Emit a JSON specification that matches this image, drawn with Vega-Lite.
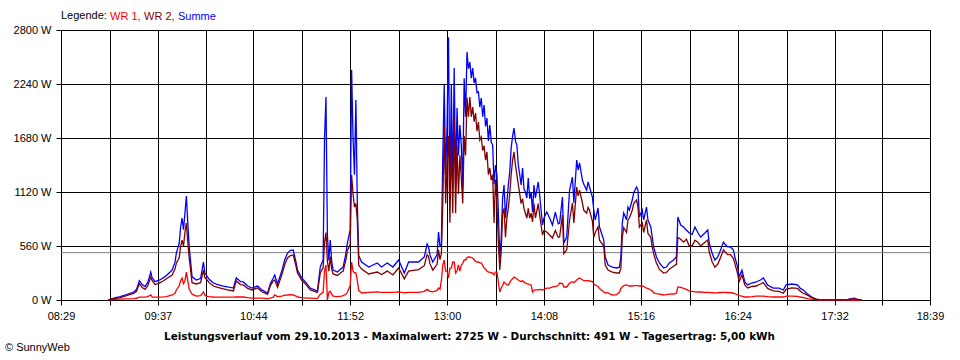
{
  "$schema": "https://vega.github.io/schema/vega-lite/v6.json",
  "width": 869,
  "height": 270,
  "autosize": {"type": "none"},
  "padding": {"left": 61, "top": 30, "right": 30, "bottom": 60},
  "background": "white",
  "config": {
    "font": "Liberation Sans",
    "view": {"stroke": "black", "strokeWidth": 1},
    "axis": {"labelFont": "Liberation Sans", "labelFontSize": 11, "labelColor": "black", "tickColor": "black", "domainColor": "black", "gridColor": "black", "gridOpacity": 1, "gridWidth": 1, "tickSize": 5, "domainWidth": 1, "tickWidth": 1, "labelFlush": false, "labelOverlap": false}
  },
  "title": {"text": "© SunnyWeb", "orient": "bottom", "anchor": "start", "frame": "group", "fontSize": 11, "fontWeight": "normal", "color": "black", "font": "Liberation Sans", "offset": 1, "dx": -56},
  "layer": [
    {
      "data": {"values": [{"avg": 491}]},
      "mark": {"type": "rule", "color": "#808080", "strokeWidth": 1},
      "encoding": {"y": {"field": "avg", "type": "quantitative"}}
    },
    {
      "data": {
        "format": {"parse": {"t": "utc:'%H:%M'"}},
        "values": [
{"t":"09:02","WR 1":0,"WR 2":0,"Summe":0},
{"t":"09:05","WR 1":5,"WR 2":10,"Summe":15},
{"t":"09:08","WR 1":8,"WR 2":20,"Summe":28},
{"t":"09:10","WR 1":10,"WR 2":22,"Summe":32},
{"t":"09:15","WR 1":12,"WR 2":45,"Summe":57},
{"t":"09:20","WR 1":15,"WR 2":68,"Summe":83},
{"t":"09:22","WR 1":18,"WR 2":90,"Summe":108},
{"t":"09:24","WR 1":30,"WR 2":170,"Summe":200},
{"t":"09:26","WR 1":30,"WR 2":130,"Summe":160},
{"t":"09:28","WR 1":30,"WR 2":110,"Summe":140},
{"t":"09:30","WR 1":35,"WR 2":150,"Summe":185},
{"t":"09:32","WR 1":52,"WR 2":238,"Summe":290},
{"t":"09:33","WR 1":30,"WR 2":200,"Summe":230},
{"t":"09:35","WR 1":30,"WR 2":160,"Summe":190},
{"t":"09:38","WR 1":30,"WR 2":175,"Summe":205},
{"t":"09:41","WR 1":32,"WR 2":200,"Summe":232},
{"t":"09:43","WR 1":35,"WR 2":220,"Summe":255},
{"t":"09:47","WR 1":52,"WR 2":259,"Summe":311},
{"t":"09:49","WR 1":70,"WR 2":320,"Summe":390},
{"t":"09:50","WR 1":104,"WR 2":385,"Summe":489},
{"t":"09:52","WR 1":150,"WR 2":440,"Summe":590},
{"t":"09:53","WR 1":200,"WR 2":560,"Summe":760},
{"t":"09:54","WR 1":228,"WR 2":620,"Summe":850},
{"t":"09:55","WR 1":170,"WR 2":560,"Summe":730},
{"t":"09:56","WR 1":200,"WR 2":700,"Summe":900},
{"t":"09:57","WR 1":290,"WR 2":798,"Summe":1078},
{"t":"09:58","WR 1":200,"WR 2":600,"Summe":800},
{"t":"09:59","WR 1":110,"WR 2":440,"Summe":550},
{"t":"10:01","WR 1":60,"WR 2":180,"Summe":240},
{"t":"10:04","WR 1":41,"WR 2":166,"Summe":207},
{"t":"10:07","WR 1":45,"WR 2":180,"Summe":225},
{"t":"10:09","WR 1":83,"WR 2":311,"Summe":394},
{"t":"10:10","WR 1":50,"WR 2":230,"Summe":280},
{"t":"10:11","WR 1":40,"WR 2":219,"Summe":259},
{"t":"10:13","WR 1":35,"WR 2":180,"Summe":215},
{"t":"10:16","WR 1":31,"WR 2":145,"Summe":176},
{"t":"10:19","WR 1":30,"WR 2":130,"Summe":160},
{"t":"10:23","WR 1":30,"WR 2":115,"Summe":145},
{"t":"10:26","WR 1":30,"WR 2":105,"Summe":135},
{"t":"10:30","WR 1":30,"WR 2":94,"Summe":124},
{"t":"10:32","WR 1":31,"WR 2":197,"Summe":228},
{"t":"10:35","WR 1":31,"WR 2":160,"Summe":191},
{"t":"10:37","WR 1":31,"WR 2":156,"Summe":187},
{"t":"10:40","WR 1":25,"WR 2":120,"Summe":145},
{"t":"10:43","WR 1":20,"WR 2":104,"Summe":124},
{"t":"10:47","WR 1":20,"WR 2":125,"Summe":145},
{"t":"10:50","WR 1":20,"WR 2":85,"Summe":105},
{"t":"10:54","WR 1":15,"WR 2":58,"Summe":73},
{"t":"10:56","WR 1":20,"WR 2":150,"Summe":170},
{"t":"10:58","WR 1":30,"WR 2":198,"Summe":228},
{"t":"10:59","WR 1":52,"WR 2":207,"Summe":259},
{"t":"11:01","WR 1":35,"WR 2":131,"Summe":166},
{"t":"11:04","WR 1":40,"WR 2":260,"Summe":300},
{"t":"11:06","WR 1":50,"WR 2":365,"Summe":415},
{"t":"11:08","WR 1":52,"WR 2":436,"Summe":487},
{"t":"11:10","WR 1":55,"WR 2":460,"Summe":515},
{"t":"11:12","WR 1":52,"WR 2":467,"Summe":519},
{"t":"11:14","WR 1":40,"WR 2":350,"Summe":390},
{"t":"11:15","WR 1":31,"WR 2":280,"Summe":311},
{"t":"11:18","WR 1":25,"WR 2":203,"Summe":228},
{"t":"11:21","WR 1":20,"WR 2":160,"Summe":180},
{"t":"11:24","WR 1":20,"WR 2":104,"Summe":124},
{"t":"11:29","WR 1":15,"WR 2":78,"Summe":93},
{"t":"11:31","WR 1":60,"WR 2":282,"Summe":342},
{"t":"11:33","WR 1":80,"WR 2":335,"Summe":415},
{"t":"11:34","WR 1":300,"WR 2":600,"Summe":1680},
{"t":"11:35","WR 1":363,"WR 2":700,"Summe":2105},
{"t":"11:36","WR 1":0,"WR 2":400,"Summe":674},
{"t":"11:37","WR 1":80,"WR 2":300,"Summe":410},
{"t":"11:38","WR 1":90,"WR 2":450,"Summe":622},
{"t":"11:39","WR 1":60,"WR 2":320,"Summe":400},
{"t":"11:40","WR 1":40,"WR 2":270,"Summe":311},
{"t":"11:43","WR 1":35,"WR 2":255,"Summe":290},
{"t":"11:46","WR 1":40,"WR 2":290,"Summe":330},
{"t":"11:47","WR 1":45,"WR 2":297,"Summe":342},
{"t":"11:49","WR 1":60,"WR 2":420,"Summe":480},
{"t":"11:50","WR 1":80,"WR 2":511,"Summe":591},
{"t":"11:52","WR 1":150,"WR 2":576,"Summe":726},
{"t":"11:53","WR 1":394,"WR 2":1296,"Summe":2385},
{"t":"11:54","WR 1":300,"WR 2":1100,"Summe":1680},
{"t":"11:55","WR 1":280,"WR 2":964,"Summe":1300},
{"t":"11:56","WR 1":280,"WR 2":1000,"Summe":2074},
{"t":"11:57","WR 1":200,"WR 2":830,"Summe":1000},
{"t":"11:58","WR 1":100,"WR 2":360,"Summe":460},
{"t":"12:00","WR 1":73,"WR 2":320,"Summe":394},
{"t":"12:05","WR 1":80,"WR 2":270,"Summe":342},
{"t":"12:11","WR 1":85,"WR 2":290,"Summe":384},
{"t":"12:14","WR 1":80,"WR 2":265,"Summe":342},
{"t":"12:18","WR 1":80,"WR 2":300,"Summe":384},
{"t":"12:22","WR 1":80,"WR 2":260,"Summe":342},
{"t":"12:26","WR 1":85,"WR 2":332,"Summe":415},
{"t":"12:30","WR 1":75,"WR 2":220,"Summe":280},
{"t":"12:33","WR 1":80,"WR 2":300,"Summe":394},
{"t":"12:40","WR 1":80,"WR 2":315,"Summe":394},
{"t":"12:44","WR 1":90,"WR 2":356,"Summe":446},
{"t":"12:46","WR 1":110,"WR 2":470,"Summe":580},
{"t":"12:47","WR 1":100,"WR 2":450,"Summe":550},
{"t":"12:48","WR 1":90,"WR 2":377,"Summe":467},
{"t":"12:50","WR 1":85,"WR 2":310,"Summe":394},
{"t":"12:53","WR 1":100,"WR 2":370,"Summe":470},
{"t":"12:54","WR 1":124,"WR 2":520,"Summe":705},
{"t":"12:55","WR 1":110,"WR 2":420,"Summe":560},
{"t":"12:56","WR 1":200,"WR 2":480,"Summe":580},
{"t":"12:57","WR 1":363,"WR 2":1000,"Summe":1472},
{"t":"12:58","WR 1":415,"WR 2":1815,"Summe":2230},
{"t":"12:59","WR 1":300,"WR 2":1000,"Summe":1300},
{"t":"13:00","WR 1":300,"WR 2":1400,"Summe":1800},
{"t":"13:01","WR 1":228,"WR 2":1700,"Summe":2725},
{"t":"13:02","WR 1":330,"WR 2":800,"Summe":1058},
{"t":"13:03","WR 1":330,"WR 2":1700,"Summe":2230},
{"t":"13:04","WR 1":394,"WR 2":900,"Summe":1150},
{"t":"13:05","WR 1":394,"WR 2":1900,"Summe":2406},
{"t":"13:06","WR 1":280,"WR 2":900,"Summe":1193},
{"t":"13:07","WR 1":300,"WR 2":1600,"Summe":1991},
{"t":"13:08","WR 1":363,"WR 2":1100,"Summe":1500},
{"t":"13:09","WR 1":300,"WR 2":1500,"Summe":1815},
{"t":"13:10","WR 1":363,"WR 2":1265,"Summe":1607},
{"t":"13:11","WR 1":380,"WR 2":1000,"Summe":1162},
{"t":"13:12","WR 1":415,"WR 2":1700,"Summe":2300},
{"t":"13:13","WR 1":415,"WR 2":1500,"Summe":1900},
{"t":"13:14","WR 1":440,"WR 2":2100,"Summe":2572},
{"t":"13:15","WR 1":446,"WR 2":1900,"Summe":2400},
{"t":"13:16","WR 1":446,"WR 2":2105,"Summe":2468},
{"t":"13:17","WR 1":440,"WR 2":1900,"Summe":2300},
{"t":"13:18","WR 1":436,"WR 2":2001,"Summe":2406},
{"t":"13:19","WR 1":420,"WR 2":1850,"Summe":2250},
{"t":"13:20","WR 1":400,"WR 2":1939,"Summe":2302},
{"t":"13:21","WR 1":394,"WR 2":1750,"Summe":2150},
{"t":"13:22","WR 1":394,"WR 2":1846,"Summe":2157},
{"t":"13:23","WR 1":385,"WR 2":1659,"Summe":2000},
{"t":"13:24","WR 1":384,"WR 2":1690,"Summe":2095},
{"t":"13:25","WR 1":360,"WR 2":1550,"Summe":1900},
{"t":"13:26","WR 1":332,"WR 2":1600,"Summe":2022},
{"t":"13:27","WR 1":320,"WR 2":1450,"Summe":1800},
{"t":"13:28","WR 1":300,"WR 2":1535,"Summe":1887},
{"t":"13:29","WR 1":290,"WR 2":1300,"Summe":1650},
{"t":"13:30","WR 1":290,"WR 2":1369,"Summe":1815},
{"t":"13:31","WR 1":280,"WR 2":1244,"Summe":1638},
{"t":"13:32","WR 1":280,"WR 2":1300,"Summe":1607},
{"t":"13:33","WR 1":260,"WR 2":800,"Summe":1200},
{"t":"13:34","WR 1":290,"WR 2":1250,"Summe":1400},
{"t":"13:35","WR 1":290,"WR 2":1000,"Summe":1296},
{"t":"13:36","WR 1":187,"WR 2":600,"Summe":912},
{"t":"13:37","WR 1":83,"WR 2":311,"Summe":436},
{"t":"13:38","WR 1":124,"WR 2":500,"Summe":643},
{"t":"13:39","WR 1":150,"WR 2":900,"Summe":1058},
{"t":"13:40","WR 1":187,"WR 2":950,"Summe":1193},
{"t":"13:41","WR 1":170,"WR 2":650,"Summe":850},
{"t":"13:42","WR 1":160,"WR 2":850,"Summe":1016},
{"t":"13:43","WR 1":156,"WR 2":950,"Summe":1193},
{"t":"13:44","WR 1":180,"WR 2":1100,"Summe":1327},
{"t":"13:45","WR 1":207,"WR 2":1300,"Summe":1576},
{"t":"13:46","WR 1":220,"WR 2":1450,"Summe":1700},
{"t":"13:47","WR 1":238,"WR 2":1535,"Summe":1783},
{"t":"13:48","WR 1":230,"WR 2":1400,"Summe":1650},
{"t":"13:49","WR 1":220,"WR 2":1300,"Summe":1607},
{"t":"13:50","WR 1":207,"WR 2":1200,"Summe":1400},
{"t":"13:51","WR 1":200,"WR 2":1100,"Summe":1300},
{"t":"13:52","WR 1":190,"WR 2":1000,"Summe":1193},
{"t":"13:53","WR 1":200,"WR 2":1050,"Summe":1369},
{"t":"13:54","WR 1":185,"WR 2":950,"Summe":1150},
{"t":"13:55","WR 1":176,"WR 2":900,"Summe":1120},
{"t":"13:56","WR 1":170,"WR 2":850,"Summe":1058},
{"t":"13:57","WR 1":165,"WR 2":950,"Summe":1265},
{"t":"13:58","WR 1":160,"WR 2":850,"Summe":1050},
{"t":"13:59","WR 1":156,"WR 2":900,"Summe":1120},
{"t":"14:00","WR 1":83,"WR 2":809,"Summe":912},
{"t":"14:01","WR 1":100,"WR 2":1000,"Summe":1193},
{"t":"14:02","WR 1":104,"WR 2":850,"Summe":1058},
{"t":"14:04","WR 1":104,"WR 2":1000,"Summe":1224},
{"t":"14:05","WR 1":110,"WR 2":880,"Summe":1089},
{"t":"14:07","WR 1":104,"WR 2":674,"Summe":778},
{"t":"14:08","WR 1":110,"WR 2":720,"Summe":850},
{"t":"14:10","WR 1":124,"WR 2":705,"Summe":912},
{"t":"14:12","WR 1":124,"WR 2":674,"Summe":850},
{"t":"14:14","WR 1":135,"WR 2":643,"Summe":778},
{"t":"14:16","WR 1":140,"WR 2":720,"Summe":912},
{"t":"14:18","WR 1":150,"WR 2":650,"Summe":790},
{"t":"14:19","WR 1":176,"WR 2":653,"Summe":798},
{"t":"14:21","WR 1":170,"WR 2":880,"Summe":1068},
{"t":"14:22","WR 1":135,"WR 2":480,"Summe":591},
{"t":"14:24","WR 1":135,"WR 2":520,"Summe":653},
{"t":"14:26","WR 1":176,"WR 2":830,"Summe":1140},
{"t":"14:28","WR 1":190,"WR 2":1006,"Summe":1275},
{"t":"14:29","WR 1":180,"WR 2":800,"Summe":1006},
{"t":"14:31","WR 1":207,"WR 2":1172,"Summe":1452},
{"t":"14:32","WR 1":220,"WR 2":1080,"Summe":1348},
{"t":"14:33","WR 1":228,"WR 2":1140,"Summe":1421},
{"t":"14:35","WR 1":210,"WR 2":1006,"Summe":1244},
{"t":"14:36","WR 1":200,"WR 2":930,"Summe":1200},
{"t":"14:38","WR 1":200,"WR 2":900,"Summe":1140},
{"t":"14:39","WR 1":200,"WR 2":960,"Summe":1224},
{"t":"14:40","WR 1":197,"WR 2":930,"Summe":1172},
{"t":"14:42","WR 1":190,"WR 2":819,"Summe":1068},
{"t":"14:43","WR 1":170,"WR 2":650,"Summe":933},
{"t":"14:44","WR 1":156,"WR 2":700,"Summe":830},
{"t":"14:46","WR 1":140,"WR 2":760,"Summe":954},
{"t":"14:47","WR 1":120,"WR 2":620,"Summe":757},
{"t":"14:50","WR 1":83,"WR 2":560,"Summe":622},
{"t":"14:51","WR 1":75,"WR 2":363,"Summe":446},
{"t":"14:53","WR 1":73,"WR 2":311,"Summe":363},
{"t":"14:56","WR 1":52,"WR 2":290,"Summe":342},
{"t":"14:59","WR 1":55,"WR 2":280,"Summe":332},
{"t":"15:01","WR 1":80,"WR 2":280,"Summe":340},
{"t":"15:02","WR 1":120,"WR 2":330,"Summe":446},
{"t":"15:03","WR 1":135,"WR 2":650,"Summe":798},
{"t":"15:04","WR 1":150,"WR 2":750,"Summe":902},
{"t":"15:06","WR 1":156,"WR 2":700,"Summe":830},
{"t":"15:07","WR 1":150,"WR 2":830,"Summe":964},
{"t":"15:08","WR 1":145,"WR 2":850,"Summe":933},
{"t":"15:10","WR 1":145,"WR 2":930,"Summe":1037},
{"t":"15:11","WR 1":150,"WR 2":1000,"Summe":1110},
{"t":"15:13","WR 1":150,"WR 2":1037,"Summe":1172},
{"t":"15:14","WR 1":150,"WR 2":964,"Summe":1140},
{"t":"15:15","WR 1":145,"WR 2":757,"Summe":861},
{"t":"15:17","WR 1":145,"WR 2":800,"Summe":933},
{"t":"15:18","WR 1":140,"WR 2":700,"Summe":830},
{"t":"15:20","WR 1":124,"WR 2":830,"Summe":964},
{"t":"15:21","WR 1":120,"WR 2":690,"Summe":830},
{"t":"15:23","WR 1":104,"WR 2":650,"Summe":757},
{"t":"15:24","WR 1":95,"WR 2":550,"Summe":653},
{"t":"15:25","WR 1":73,"WR 2":480,"Summe":550},
{"t":"15:27","WR 1":65,"WR 2":380,"Summe":446},
{"t":"15:29","WR 1":60,"WR 2":320,"Summe":384},
{"t":"15:32","WR 1":52,"WR 2":280,"Summe":332},
{"t":"15:34","WR 1":55,"WR 2":285,"Summe":342},
{"t":"15:36","WR 1":60,"WR 2":320,"Summe":384},
{"t":"15:39","WR 1":62,"WR 2":350,"Summe":415},
{"t":"15:41","WR 1":70,"WR 2":370,"Summe":446},
{"t":"15:42","WR 1":135,"WR 2":650,"Summe":861},
{"t":"15:44","WR 1":130,"WR 2":630,"Summe":778},
{"t":"15:46","WR 1":120,"WR 2":600,"Summe":757},
{"t":"15:48","WR 1":110,"WR 2":630,"Summe":726},
{"t":"15:50","WR 1":93,"WR 2":560,"Summe":695},
{"t":"15:52","WR 1":90,"WR 2":560,"Summe":680},
{"t":"15:54","WR 1":85,"WR 2":620,"Summe":757},
{"t":"15:56","WR 1":83,"WR 2":600,"Summe":700},
{"t":"15:58","WR 1":83,"WR 2":560,"Summe":653},
{"t":"16:01","WR 1":80,"WR 2":600,"Summe":695},
{"t":"16:03","WR 1":80,"WR 2":622,"Summe":726},
{"t":"16:04","WR 1":80,"WR 2":500,"Summe":591},
{"t":"16:06","WR 1":75,"WR 2":400,"Summe":487},
{"t":"16:08","WR 1":73,"WR 2":340,"Summe":415},
{"t":"16:10","WR 1":75,"WR 2":370,"Summe":446},
{"t":"16:12","WR 1":78,"WR 2":440,"Summe":519},
{"t":"16:14","WR 1":80,"WR 2":520,"Summe":601},
{"t":"16:15","WR 1":80,"WR 2":500,"Summe":580},
{"t":"16:17","WR 1":78,"WR 2":470,"Summe":550},
{"t":"16:19","WR 1":75,"WR 2":470,"Summe":550},
{"t":"16:21","WR 1":70,"WR 2":430,"Summe":519},
{"t":"16:22","WR 1":65,"WR 2":380,"Summe":446},
{"t":"16:24","WR 1":52,"WR 2":270,"Summe":342},
{"t":"16:25","WR 1":45,"WR 2":190,"Summe":238},
{"t":"16:27","WR 1":40,"WR 2":260,"Summe":311},
{"t":"16:29","WR 1":31,"WR 2":156,"Summe":187},
{"t":"16:31","WR 1":31,"WR 2":125,"Summe":156},
{"t":"16:34","WR 1":35,"WR 2":140,"Summe":176},
{"t":"16:37","WR 1":40,"WR 2":145,"Summe":187},
{"t":"16:40","WR 1":41,"WR 2":166,"Summe":207},
{"t":"16:42","WR 1":41,"WR 2":180,"Summe":228},
{"t":"16:45","WR 1":35,"WR 2":120,"Summe":156},
{"t":"16:49","WR 1":31,"WR 2":95,"Summe":124},
{"t":"16:53","WR 1":31,"WR 2":90,"Summe":124},
{"t":"16:56","WR 1":31,"WR 2":70,"Summe":104},
{"t":"16:58","WR 1":40,"WR 2":110,"Summe":156},
{"t":"17:02","WR 1":41,"WR 2":125,"Summe":166},
{"t":"17:06","WR 1":38,"WR 2":120,"Summe":156},
{"t":"17:08","WR 1":31,"WR 2":90,"Summe":120},
{"t":"17:10","WR 1":25,"WR 2":70,"Summe":104},
{"t":"17:13","WR 1":15,"WR 2":50,"Summe":62},
{"t":"17:16","WR 1":10,"WR 2":25,"Summe":31},
{"t":"17:19","WR 1":3,"WR 2":8,"Summe":10},
{"t":"17:22","WR 1":0,"WR 2":2,"Summe":2},
{"t":"17:40","WR 1":0,"WR 2":2,"Summe":2},
{"t":"17:44","WR 1":0,"WR 2":10,"Summe":15},
{"t":"17:46","WR 1":0,"WR 2":15,"Summe":20},
{"t":"17:48","WR 1":0,"WR 2":5,"Summe":5},
{"t":"17:51","WR 1":0,"WR 2":0,"Summe":0}
        ]
      },
      "transform": [{"fold": ["Summe", "WR 1", "WR 2"], "as": ["Serie", "W"]}],
      "mark": {"type": "line", "strokeWidth": 1.3},
      "encoding": {
        "x": {
          "field": "t", "type": "temporal",
          "scale": {"type": "utc", "domain": [
            {"year": 1900, "month": 1, "date": 1, "hours": 8, "minutes": 29, "utc": true},
            {"year": 1900, "month": 1, "date": 1, "hours": 18, "minutes": 39, "utc": true}
          ]},
          "axis": {
            "values": [
              {"year": 1900, "month": 1, "date": 1, "hours": 8, "minutes": 29, "utc": true},
              {"year": 1900, "month": 1, "date": 1, "hours": 9, "minutes": 3, "seconds": 30, "utc": true},
              {"year": 1900, "month": 1, "date": 1, "hours": 9, "minutes": 37, "utc": true},
              {"year": 1900, "month": 1, "date": 1, "hours": 10, "minutes": 10, "seconds": 30, "utc": true},
              {"year": 1900, "month": 1, "date": 1, "hours": 10, "minutes": 44, "utc": true},
              {"year": 1900, "month": 1, "date": 1, "hours": 11, "minutes": 18, "seconds": 30, "utc": true},
              {"year": 1900, "month": 1, "date": 1, "hours": 11, "minutes": 52, "utc": true},
              {"year": 1900, "month": 1, "date": 1, "hours": 12, "minutes": 26, "seconds": 30, "utc": true},
              {"year": 1900, "month": 1, "date": 1, "hours": 13, "minutes": 0, "utc": true},
              {"year": 1900, "month": 1, "date": 1, "hours": 13, "minutes": 34, "seconds": 30, "utc": true},
              {"year": 1900, "month": 1, "date": 1, "hours": 14, "minutes": 8, "utc": true},
              {"year": 1900, "month": 1, "date": 1, "hours": 14, "minutes": 42, "seconds": 30, "utc": true},
              {"year": 1900, "month": 1, "date": 1, "hours": 15, "minutes": 16, "utc": true},
              {"year": 1900, "month": 1, "date": 1, "hours": 15, "minutes": 50, "seconds": 30, "utc": true},
              {"year": 1900, "month": 1, "date": 1, "hours": 16, "minutes": 24, "utc": true},
              {"year": 1900, "month": 1, "date": 1, "hours": 16, "minutes": 58, "seconds": 30, "utc": true},
              {"year": 1900, "month": 1, "date": 1, "hours": 17, "minutes": 32, "utc": true},
              {"year": 1900, "month": 1, "date": 1, "hours": 18, "minutes": 5, "seconds": 30, "utc": true},
              {"year": 1900, "month": 1, "date": 1, "hours": 18, "minutes": 39, "utc": true}
            ],
            "labelExpr": "utcFormat(datum.value, '%S') == '30' ? '' : utcFormat(datum.value, '%H:%M')",
            "labelPadding": 5,
            "grid": true,
            "title": "Leistungsverlauf vom 29.10.2013 - Maximalwert: 2725 W - Durchschnitt: 491 W - Tagesertrag: 5,00 kWh",
            "titleFont": "DejaVu Sans",
            "titleFontSize": 10.4,
            "titleFontWeight": "bold",
            "titleColor": "black",
            "titlePadding": 10,
            "titleX": 408
          }
        },
        "y": {
          "field": "W", "type": "quantitative",
          "scale": {"domain": [0, 2800], "nice": false},
          "axis": {"values": [0, 560, 1120, 1680, 2240, 2800], "labelExpr": "datum.value + ' W'", "title": null, "labelPadding": 5, "grid": true}
        },
        "color": {
          "field": "Serie", "type": "nominal",
          "scale": {"domain": ["WR 1", "WR 2", "Summe"], "range": ["#ff0000", "#800000", "#0000ff"]},
          "legend": {
            "orient": "top", "direction": "horizontal",
            "title": "Legende:", "titleOrient": "left", "titleFont": "Liberation Sans", "titleFontSize": 11, "titleFontWeight": "normal", "titleColor": "black", "titlePadding": 3,
            "labelFont": "Liberation Sans", "labelFontSize": 11,
            "labelExpr": "datum.label == 'Summe' ? datum.label : datum.label + ','",
            "symbolType": "circle", "symbolOpacity": 0, "symbolSize": 0.01, "symbolStrokeWidth": 0.01, "labelOffset": -11, "columnPadding": 3,
            "offset": 8, "padding": 0,
            "encode": {"labels": {"update": {"fill": {"signal": "scale('color', datum.value)"}}}}
          }
        }
      }
    }
  ]
}
